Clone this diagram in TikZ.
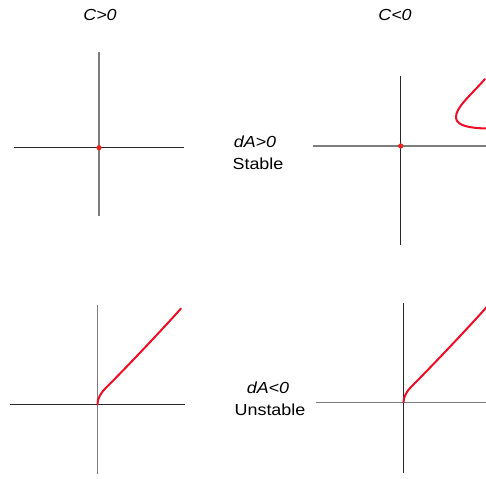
\documentclass[tikz,border=0pt]{standalone}
\usepackage{fontspec}
\setmainfont[FakeStretch=1.12]{Liberation Sans}
\definecolor{axgray}{RGB}{125,125,125}
\definecolor{axdark}{RGB}{40,40,40}
\definecolor{curvered}{RGB}{238,12,38}
\definecolor{dotred}{RGB}{235,35,25}
\begin{document}
\begin{tikzpicture}[x=1pt,y=-1pt,
  axislight/.style={draw=axgray, line width=1.4pt},
  axisdark/.style={draw=axdark, line width=1pt},
  branch/.style={draw=curvered, line width=2pt, line cap=round},
  fixedpt/.style={fill=dotred},
  lbl/.style={inner sep=0pt, anchor=base, font=\fontsize{16}{19}\selectfont},
  cond/.style={lbl, font=\fontsize{16}{19}\selectfont\itshape}]
\useasboundingbox (0,0) rectangle (486,478);

% column headings
\node[cond] (cpos) at (100,21) {C>0};
\node[cond] (cneg) at (395,21) {C<0};

% row labels
\node[cond] (dapos) at (255,148) {dA>0};
\node[lbl]  (stab)  at (258,170) {Stable};
\node[cond] (daneg) at (268,393) {dA<0};
\node[lbl]  (unst)  at (270,415) {Unstable};

% origins of the four phase planes
\coordinate (o1) at (99,147.7);
\coordinate (o2) at (400.7,146);
\coordinate (o3) at (97.5,404.3);
\coordinate (o4) at (403.5,402.5);

% top left: C>0, dA>0
\draw[axisdark]  (14.3,147.7) -- (184,147.7);
\draw[axislight] (99,51.7) -- (99,215.7);
\fill[fixedpt] (o1) circle (2.6);

% top right: C<0, dA>0
\draw[axislight] (312.7,146) -- (486,146);
\draw[axisdark]  (400.7,75.7) -- (400.7,245);
\fill[fixedpt] (o2) circle (2.6);
\draw[branch] (485,79) .. controls (470,96) and (455,108) .. (456,118)
              .. controls (457,126) and (470,128) .. (486,128.5);

% bottom left: C>0, dA<0 (parabolic start, then nearly straight)
\draw[axislight] (97.3,305) -- (97.3,474);
\draw[axisdark]  (10,404.3) -- (185,404.3);
\draw[branch] (o3) .. controls (97.5,398.97) and (100.17,393.63) .. (105.5,388.3)
              .. controls (125,368.8) and (160,332) .. (181,308.5);

% bottom right: C<0, dA<0
\draw[axislight] (316,402.5) -- (486,402.5);
\draw[axisdark]  (403.3,303) -- (403.3,473);
\draw[branch] (o4) .. controls (403.5,397.17) and (406.17,391.83) .. (411.5,386.5)
              .. controls (431,367) and (466,330.2) .. (487,306.7);
\end{tikzpicture}
\end{document}
